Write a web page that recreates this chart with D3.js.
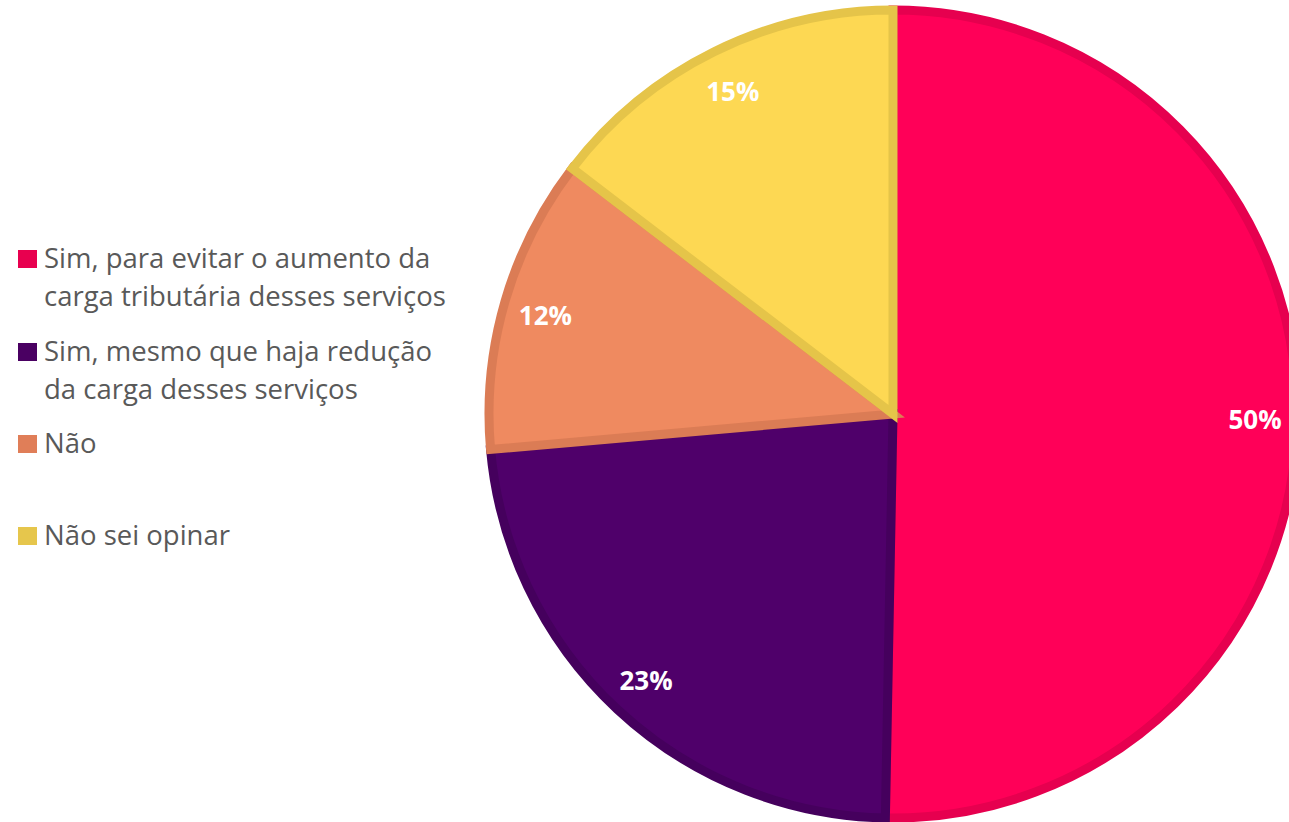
<!DOCTYPE html>
<html>
<head>
<meta charset="utf-8">
<script src="https://cdn.jsdelivr.net/npm/d3@7"></script>
<style>
  body { margin: 0; background: #fff; }
  svg { display: block; }
</style>
</head>
<body>
<svg id="chart" width="1289" height="822"></svg>
<script>
// answer categories (legend order = slice order, clockwise from 12 o'clock)
const categories = [
    ["Sim, para evitar o aumento da", "carga tributária desses serviços"],
    ["Sim, mesmo que haja redução", "da carga desses serviços"],
    ["Não"],
    ["Não sei opinar"]
];
const values = [50.3, 23.3, 11.8, 14.6];
const valueLabels = ["50%", "23%", "12%", "15%"];
const fills = ["#FF0058", "#4F006A", "#EF8A60", "#FDD853"];
const strokes = ["#E6004F", "#45005D", "#DB7C55", "#E5C449"];
const legendColors = ["#E8004F", "#4A0062", "#E07E58", "#E6C64C"];

const svg = d3.select("#chart");
const cx = 893, cy = 414, radius = 404;

let pie = d3.pie().sort(null).value(d => d);
let arcs = pie(values);
let arc = d3.arc().innerRadius(0).outerRadius(radius);
let labelArc = d3.arc().innerRadius(362).outerRadius(362);

let g = svg.append("g").attr("transform", `translate(${cx},${cy})`);

g.selectAll("path")
    .data(arcs)
    .join("path")
    .attr("d", arc)
    .attr("fill", (d, i) => fills[i])
    .attr("stroke", (d, i) => strokes[i])
    .attr("stroke-width", 9)
    .attr("stroke-linejoin", "miter");

g.selectAll("text.val")
    .data(arcs)
    .join("text")
    .attr("class", "val")
    .attr("transform", d => `translate(${labelArc.centroid(d)})`)
    .attr("text-anchor", "middle")
    .attr("dy", "0.45em")
    .style("font-family", "'Open Sans', sans-serif")
    .style("font-weight", "bold")
    .style("font-size", "26px")
    .attr("fill", "#fff")
    .text((d, i) => valueLabels[i]);

// legend
const legendTop = [250, 343, 435, 527];
let legend = svg.append("g");
let items = legend.selectAll("g")
    .data(categories)
    .join("g")
    .attr("transform", (d, i) => `translate(18,${legendTop[i]})`);

items.append("rect")
    .attr("width", 19)
    .attr("height", 18)
    .attr("fill", (d, i) => legendColors[i]);

items.each(function (lines) {
    let t = d3.select(this).append("text")
        .attr("x", 26)
        .attr("y", 18)
        .style("font-family", "'Open Sans', sans-serif")
        .style("font-size", "27.5px")
        .attr("fill", "#595959");
    t.selectAll("tspan")
        .data(lines)
        .join("tspan")
        .attr("x", 26)
        .attr("dy", (d, i) => i === 0 ? 0 : 38)
        .text(d => d);
});
</script>
</body>
</html>
